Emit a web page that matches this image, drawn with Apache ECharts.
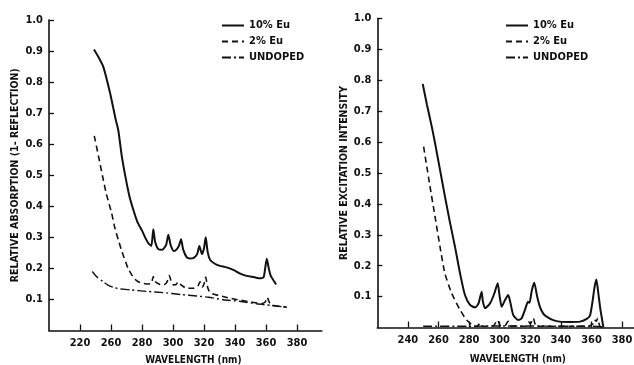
<!DOCTYPE html>
<html>
<head>
<meta charset="utf-8">
<script src="https://cdn.jsdelivr.net/npm/echarts@6/dist/echarts.min.js"></script>
<style>
html,body{margin:0;padding:0;background:#fff;}
#c{width:634px;height:365px;}
</style>
</head>
<body>
<div id="c"></div>
<script>
// ---------- DATA ----------
const seriesNames = ['10% Eu', '2% Eu', 'UNDOPED'];

// Left panel: relative absorption (1 - reflection)  [wavelength nm, value]
const absEu10 = [[249,0.905],[252,0.88],[255,0.85],[259.4,0.765],[263,0.68],[264.7,0.645],[267,0.56],[269.7,0.485],[272,0.43],[274.4,0.389],[277,0.35],[279.8,0.324],[282,0.30],[284.1,0.281],[286,0.272],[287.3,0.326],[288.5,0.285],[290.5,0.262],[293,0.26],[295.5,0.275],[297,0.308],[298.5,0.275],[300.6,0.256],[302.5,0.262],[304,0.275],[305.2,0.294],[306.5,0.262],[308.8,0.236],[311,0.232],[313.1,0.233],[315.5,0.245],[317,0.272],[318.7,0.246],[320,0.265],[321.1,0.30],[322.3,0.255],[323.9,0.228],[327,0.215],[330.3,0.208],[334,0.204],[338.9,0.195],[343,0.184],[347.5,0.176],[352,0.172],[356.1,0.168],[358.5,0.172],[360.5,0.231],[361.8,0.20],[363,0.177],[365,0.16],[366.5,0.148]];
const absEu2 = [[249.2,0.627],[252,0.56],[254.6,0.496],[257,0.44],[260.4,0.378],[262.5,0.33],[264.7,0.292],[267,0.255],[269,0.227],[271,0.20],[273.4,0.179],[275.5,0.165],[277.6,0.157],[280,0.153],[283,0.150],[286,0.152],[287.3,0.174],[288.5,0.158],[291.6,0.148],[294,0.147],[296,0.155],[297.6,0.177],[299,0.155],[300.2,0.147],[302,0.148],[303.4,0.157],[305,0.148],[308.8,0.136],[313.1,0.136],[316,0.142],[317.4,0.157],[319,0.14],[320,0.15],[321.1,0.172],[322.3,0.14],[323.9,0.122],[330,0.112],[337,0.104],[343,0.098],[350,0.092],[357.2,0.087],[359.5,0.092],[360.8,0.107],[362,0.092],[363.7,0.082],[368,0.078],[373.4,0.075]];
const absUndoped = [[247.9,0.190],[251,0.172],[255,0.157],[258,0.146],[261.5,0.139],[266,0.134],[272.3,0.131],[283,0.126],[293.7,0.122],[305,0.116],[315.3,0.111],[323,0.107],[332.5,0.099],[343,0.094],[354,0.086],[363,0.081],[373.4,0.075]];

// Right panel: relative excitation intensity
const excEu10 = [[249.7,0.788],[252.5,0.72],[255.6,0.65],[258,0.59],[261,0.51],[264,0.43],[267.1,0.35],[270.8,0.261],[274.1,0.175],[277.3,0.105],[280.6,0.073],[283.9,0.065],[285.5,0.072],[286.5,0.083],[288.2,0.116],[289,0.085],[290.4,0.062],[293.7,0.078],[296.5,0.11],[298.7,0.143],[300,0.10],[301.3,0.067],[303.5,0.089],[305.6,0.105],[307,0.08],[308.9,0.04],[312.2,0.024],[314.4,0.030],[316.5,0.057],[318.5,0.083],[319.5,0.08],[321,0.12],[322.6,0.145],[324.5,0.10],[326.3,0.067],[328.5,0.045],[330.7,0.035],[335,0.024],[339.4,0.019],[346,0.018],[352.5,0.019],[356.9,0.028],[359,0.038],[360.5,0.078],[362,0.13],[363.2,0.155],[364.5,0.11],[365.6,0.067],[366.8,0.03],[367.8,0.0]];
const excEu2 = [[250.3,0.585],[254,0.47],[257.7,0.36],[261,0.261],[264.2,0.175],[268.6,0.111],[274.1,0.057],[278.4,0.024],[282.7,0.006],[285,0.004],[287.5,0.014],[289,0.004],[296,0.006],[298.5,0.024],[300.5,0.006],[303.5,0.006],[305.5,0.02],[307.5,0.004],[317,0.005],[319,0.018],[320,0.012],[322,0.03],[324,0.004],[358,0.004],[361,0.012],[362,0.025],[363.2,0.02],[364,0.03],[365.5,0.004],[367.8,0.0]];
const excUndoped = [[250,0.004],[280,0.004],[300,0.005],[320,0.005],[340,0.004],[360,0.004],[368,0.002]];

// Axis ticks / labels
const leftXTicks = [240,260,280,300,320,340,360,380];
const leftXTickLabels = ['220','260','280','300','320','340','360','380'];
const rightXTicks = [240,260,280,300,320,340,360,380];
const rightXTickLabels = ['240','260','280','300','320','340','360','380'];
const yTicks = [0.1,0.2,0.3,0.4,0.5,0.6,0.7,0.8,0.9,1.0];

const leftYName = 'RELATIVE ABSORPTION (1- REFLECTION)';
const rightYName = 'RELATIVE EXCITATION INTENSITY';
const xName = 'WAVELENGTH (nm)';

// ---------- STYLE ----------
const FONT = '"DejaVu Sans Condensed", "DejaVu Sans", sans-serif';
const INK = '#111';
const lineTypes = ['solid', [6,4], [9,3,2,3]];
const lineWidths = [2, 1.6, 1.4];

function xAxis(gridIndex, ticks, labels, min, max, namePad, gap) {
  return {
    type: 'value', gridIndex, min, max,
    axisLine: {show: true, lineStyle: {color: INK, width: 1.6}},
    axisTick: {show: true, inside: true, length: 6, customValues: ticks, lineStyle: {color: INK, width: 1.3}},
    axisLabel: {
      show: true, customValues: ticks, margin: 7,
      color: INK, fontFamily: FONT, fontWeight: 'bold', fontSize: 11,
      formatter: v => { const i = ticks.indexOf(v); return i >= 0 ? labels[i] : ''; }
    },
    splitLine: {show: false},
    name: xName, nameLocation: 'middle', nameGap: gap,
    nameTextStyle: {color: INK, fontFamily: FONT, fontWeight: 'bold', fontSize: 10, padding: namePad}
  };
}
function yAxis(gridIndex, name, gap) {
  return {
    type: 'value', gridIndex, min: 0, max: 1.0,
    axisLine: {show: true, lineStyle: {color: INK, width: 1.6}},
    axisTick: {show: true, inside: true, length: 5, customValues: yTicks, lineStyle: {color: INK, width: 1.3}},
    axisLabel: {
      show: true, customValues: yTicks, margin: 6,
      color: INK, fontFamily: FONT, fontWeight: 'bold', fontSize: 11,
      formatter: v => v.toFixed(1)
    },
    splitLine: {show: false},
    name, nameLocation: 'middle', nameGap: gap,
    nameTextStyle: {color: INK, fontFamily: FONT, fontWeight: 'bold', fontSize: 10.5}
  };
}
function series(name, data, idx, axisIdx) {
  return {
    name, type: 'line', data, xAxisIndex: axisIdx, yAxisIndex: axisIdx,
    showSymbol: false, symbol: 'none', smooth: 0.2, animation: false,
    lineStyle: {color: INK, width: lineWidths[idx], type: lineTypes[idx]},
    itemStyle: {color: INK}
  };
}
function legend(left) {
  return {
    data: seriesNames, orient: 'vertical', left, top: 15,
    itemWidth: 22, itemHeight: 10, itemGap: 5,
    itemStyle: {opacity: 0},
    textStyle: {color: INK, fontFamily: FONT, fontWeight: 'bold', fontSize: 11},
    selectedMode: false
  };
}

const chart = echarts.init(document.getElementById('c'), null, {renderer: 'canvas'});
chart.setOption({
  backgroundColor: '#fff',
  animation: false,
  grid: [
    {left: 49, top: 20, width: 272.8, height: 310.5, containLabel: false, outerBoundsMode: 'none'},
    {left: 377.3, top: 18.5, width: 257, height: 309, containLabel: false, outerBoundsMode: 'none'}
  ],
  xAxis: [
    xAxis(0, leftXTicks, leftXTickLabels, 220, 396, [0,0,0,16], 25),
    xAxis(1, rightXTicks, rightXTickLabels, 220, 388, [0,0,0,24], 27)
  ],
  yAxis: [
    yAxis(0, leftYName, 28),
    yAxis(1, rightYName, 27)
  ],
  legend: [legend(216), legend(500)],
  series: [
    series(seriesNames[0], absEu10, 0, 0),
    series(seriesNames[1], absEu2, 1, 0),
    series(seriesNames[2], absUndoped, 2, 0),
    series(seriesNames[0], excEu10, 0, 1),
    series(seriesNames[1], excEu2, 1, 1),
    series(seriesNames[2], excUndoped, 2, 1)
  ]
});
</script>
</body>
</html>
